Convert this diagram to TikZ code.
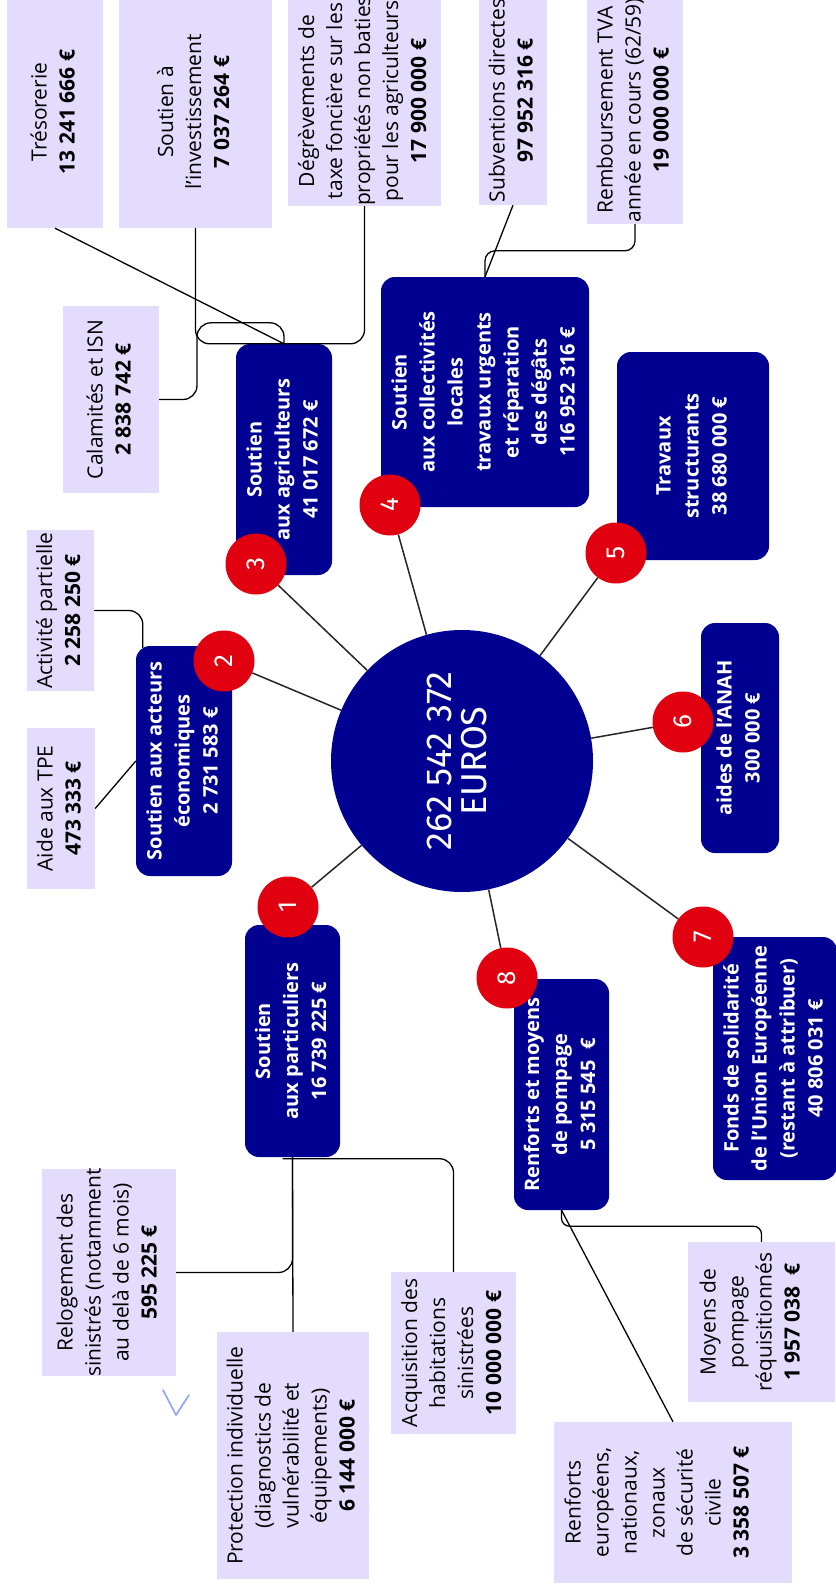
\documentclass[tikz,border=0pt]{standalone}
\usepackage{fontspec}
\setmainfont{Open Sans}
\newfontfamily\bigfont{Fira Sans}
\usetikzlibrary{calc}
\definecolor{navy}{HTML}{000091}
\definecolor{rouge}{HTML}{E1000F}
\definecolor{lav}{HTML}{E4DCFD}
\definecolor{tickblue}{HTML}{8AA4F8}
\newcommand\rt[1]{\rotatebox{90}{\makebox[0pt]{\begin{tabular}{@{}c@{}}#1\end{tabular}}}}
\tikzset{
  navybox/.style={fill=navy, rounded corners=14pt, inner sep=0pt, text=white,
    font=\fontsize{20}{28}\selectfont\bfseries},
  lavbox/.style={fill=lav, inner sep=0pt, text=black,
    font=\fontsize{21}{28}\selectfont},
  numc/.style={circle, fill=rouge, minimum size=61pt, inner sep=0pt, text=white,
    font=\bigfont\fontsize{26}{26}\selectfont},
  bigc/.style={circle, fill=navy, minimum size=262pt, inner sep=0pt, text=white,
    font=\bigfont\fontsize{36}{35}\selectfont},
  conn/.style={draw=black, line width=1.3pt},
  elbow/.style={conn, rounded corners=14pt},
  ray/.style={draw=black!85, line width=1.5pt},
}
\begin{document}
\begin{tikzpicture}[x=1pt,y=-1pt]
\fill[white] (0,0) rectangle (835,1589);
\useasboundingbox (0,0) rectangle (835,1589);

% ---- lavender boxes
\node[lavbox, minimum width=96pt, minimum height=232pt] (tres) at (55,112) {\rt{Trésorerie\\\textbf{13 241 666 €}}};
\node[lavbox, minimum width=153pt, minimum height=232pt] (inv) at (195.5,112) {\rt{Soutien à\\l’investissement\\\textbf{7 037 264 €}}};
\node[lavbox, minimum width=153pt, minimum height=210pt] (deg) at (364.5,101) {\rt{Dégrèvements de\\taxe foncière sur les\\propriétés non baties\\pour les agriculteurs\\\textbf{17 900 000 €}}};
\node[lavbox, minimum width=68pt, minimum height=209pt] (subv) at (513,100.5) {\rt{Subventions directes\\\textbf{97 952 316 €}}};
\node[lavbox, minimum width=96pt, minimum height=228pt] (remb) at (635,110) {\rt{Remboursement TVA\\année en cours (62/59)\\\textbf{19 000 000 €}}};
\node[lavbox, minimum width=96pt, minimum height=187pt] (cal) at (111,399.5) {\rt{Calamités et ISN\\\textbf{2 838 742 €}}};
\node[lavbox, minimum width=67pt, minimum height=161pt] (act) at (60.5,610.5) {\rt{Activité partielle\\\textbf{2 258 250 €}}};
\node[lavbox, minimum width=68pt, minimum height=161pt] (tpe) at (61,808.5) {\rt{Aide aux TPE\\\textbf{473 333 €}}};
\node[lavbox, minimum width=134pt, minimum height=207pt] (rel) at (109,1272.5) {\rt{Relogement des\\sinistrés (notamment\\au delà de 6 mois)\\\textbf{595 225 €}}};
\node[lavbox, minimum width=152pt, minimum height=247pt] (prot) at (293,1455.5) {\rt{Protection individuelle\\(diagnostics de\\vulnérabilité et\\équipements)\\\textbf{6 144 000 €}}};
\node[lavbox, minimum width=125pt, minimum height=162pt] (acq) at (453.5,1353) {\rt{Acquisition des\\habitations\\sinistrées\\\textbf{10 000 000 €}}};
\node[lavbox, minimum width=147pt, minimum height=160pt] (moy) at (761.5,1322) {\rt{Moyens de\\pompage\\réquisitionnés\\\textbf{1 957 038\ \ €}}\hspace*{19pt}};
\node[lavbox, minimum width=238pt, minimum height=161pt] (renf) at (673,1502.5) {\rt{Renforts\\européens,\\nationaux,\\zonaux\\de sécurité\\civile\\\textbf{3 358 507 €}}\hspace*{28pt}};

% ---- navy boxes
\node[navybox, minimum width=95pt, minimum height=232pt] (b1) at (292.5,1041) {\rt{Soutien\\aux particuliers\\16 739 225 €}};
\node[navybox, minimum width=96pt, minimum height=230pt] (b2) at (184,761) {\rt{Soutien aux acteurs\\économiques\\2 731 583 €}};
\node[navybox, minimum width=96pt, minimum height=231pt] (b3) at (284,459.5) {\rt{Soutien\\aux agriculteurs\\41 017 672 €}};
\node[navybox, minimum width=208pt, minimum height=230pt] (b4) at (485,392) {\rt{Soutien\\aux collectivités\\locales\\travaux urgents\\et réparation\\des dégâts\\116 952 316 €}};
\node[navybox, minimum width=152pt, minimum height=208pt] (b5) at (693,456) {\rt{Travaux\\structurants\\38 680 000 €}};
\node[navybox, minimum width=78pt, minimum height=230pt] (b6) at (740,738) {\rt{aides de l’ANAH\\300 000 €}};
\node[navybox, minimum width=124pt, minimum height=243pt] (b7) at (775,1058.5) {\rt{Fonds de solidarité\\de l’Union Européenne\\(restant à attribuer)\\40 806 031 €}};
\node[navybox, minimum width=95pt, minimum height=231pt] (b8) at (561.5,1094.5) {\rt{Renforts et moyens\\de pompage\\5 315 545\ \ €}};

% ---- connectors to sub-items
\draw[conn] (tres.south) -- (b3.north);
\draw[elbow] (inv.south) |- (b3.north);
\draw[elbow] (deg.south) |- (b3.north);
\draw[elbow] (cal.east) -| ($(b3.north)+(-87,-21)$) -| (b3.north);
\draw[conn] (subv.south) -- (b4.north);
\draw[conn, rounded corners=10pt] (remb.south) |- ($(b4.north)+(0,-26)$) -- (b4.north);
\draw[elbow] (act.east) -| ($(b2.north west)+(7,2)$);
\draw[conn] (tpe.east) -- (b2.west);
\draw[elbow] (rel.east) -| (b1.south);
\draw[conn] (prot.north) -- (b1.south);
\draw[elbow] (acq.north) |- ($(b1.south)+(-10,1.5)$);
\draw[conn, rounded corners=8pt] (moy.north) |- ($(b8.south)+(0,16)$) -- (b8.south);
\draw[conn] (renf.north) -- (b8.south);

% ---- centre and numbered circles
\node[bigc] (ctr) at (462,761) {\rt{262 542 372\\EUROS}};
\node[numc] (n1) at (288,907) {\rotatebox{90}{1}};
\node[numc] (n2) at (224,661) {\rotatebox{90}{2}};
\node[numc] (n3) at (256,564) {\rotatebox{90}{3}};
\node[numc] (n4) at (390,505) {\rotatebox{90}{4}};
\node[numc] (n5) at (616,553) {\rotatebox{90}{5}};
\node[numc] (n6) at (683,722) {\rotatebox{90}{6}};
\node[numc] (n7) at (703,937) {\rotatebox{90}{7}};
\node[numc] (n8) at (507,978) {\rotatebox{90}{8}};
\foreach \k in {1,...,8} {\draw[ray] (ctr) -- (n\k);}

% ---- stray pen mark
\draw[tickblue, line width=1.6pt, line cap=round, line join=round] (163,1390) -- (176,1415) -- (189,1395);
\end{tikzpicture}
\end{document}
